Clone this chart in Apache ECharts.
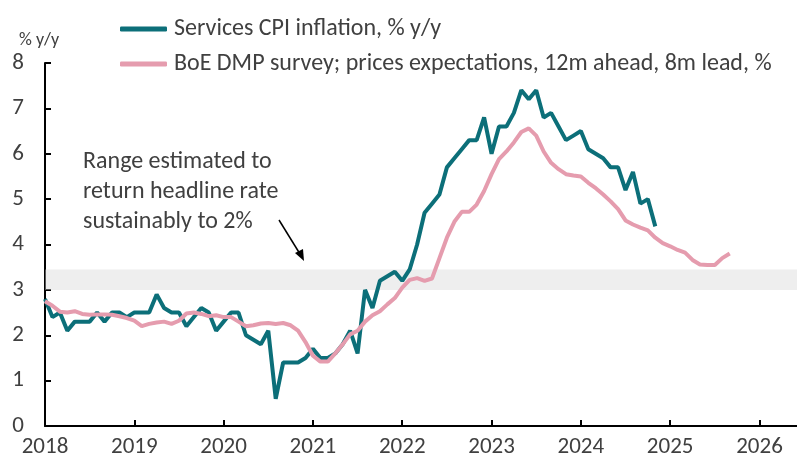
<!DOCTYPE html>
<html>
<head>
<meta charset="utf-8">
<script src="https://cdn.jsdelivr.net/npm/echarts@6/dist/echarts.min.js"></script>
<style>
  html, body { margin: 0; padding: 0; background: #fff; }
  #main { width: 797px; height: 466px; }
</style>
</head>
<body>
<div id="main"></div>
<script>
// monthly series, both starting Jan 2018
var startYear = 2018;
var servicesCpi = [
  2.8, 2.4, 2.5, 2.1, 2.3, 2.3, 2.3, 2.5, 2.3, 2.5, 2.5, 2.4,
  2.5, 2.5, 2.5, 2.9, 2.6, 2.5, 2.5, 2.2, 2.4, 2.6, 2.5, 2.1,
  2.3, 2.5, 2.5, 2.0, 1.9, 1.8, 2.1, 0.6, 1.4, 1.4, 1.4, 1.5,
  1.7, 1.5, 1.5, 1.6, 1.8, 2.1, 1.6, 3.0, 2.6, 3.2, 3.3, 3.4,
  3.2, 3.45, 4.0, 4.7, 4.9, 5.1, 5.7, 5.9, 6.1, 6.3, 6.3, 6.8,
  6.0, 6.6, 6.6, 6.9, 7.4, 7.2, 7.4, 6.8, 6.9, 6.6, 6.3, 6.4,
  6.5, 6.1, 6.0, 5.9, 5.7, 5.7, 5.2, 5.6, 4.9, 5.0, 4.4
];
var dmpExpectations = [
  2.75, 2.65, 2.52, 2.5, 2.53, 2.47, 2.45, 2.46, 2.46, 2.45, 2.42, 2.38,
  2.32, 2.2, 2.25, 2.28, 2.3, 2.25, 2.32, 2.48, 2.5, 2.47, 2.42, 2.44,
  2.4, 2.4, 2.3, 2.2, 2.22, 2.26, 2.27, 2.25, 2.27, 2.22, 2.1, 1.85,
  1.55, 1.42, 1.42, 1.6, 1.8, 2.02, 2.1, 2.3, 2.44, 2.53, 2.68, 2.82,
  3.05, 3.22, 3.26, 3.2, 3.25, 3.7, 4.15, 4.5, 4.72, 4.72, 4.88, 5.18,
  5.55, 5.88, 6.05, 6.25, 6.48, 6.56, 6.4, 6.05, 5.8, 5.66, 5.55, 5.52,
  5.5, 5.36, 5.24, 5.1, 4.95, 4.78, 4.53, 4.44, 4.37, 4.31, 4.15, 4.03,
  3.96, 3.88, 3.82, 3.66, 3.56, 3.55, 3.55, 3.7, 3.8
];
var seriesNames = ['Services CPI inflation, % y/y', 'BoE DMP survey; prices expectations, 12m ahead, 8m lead, %'];
var targetBand = [3.0, 3.45];
var yTicks = [0, 8, 1];
var xRange = [2018, 2026.42];
var noteLines = ['Range estimated to', 'return headline rate', 'sustainably to 2%'];

function toPairs(values) {
  return values.map(function (v, i) { return [startYear + i / 12, v]; });
}

var font = 'Carlito, Lato, "Liberation Sans", sans-serif';
var txt = '#404040';

var chart = echarts.init(document.getElementById('main'));
var option = {
  animation: false,
  textStyle: { fontFamily: font },
  grid: { left: 45, right: 0, top: 63, bottom: 40 },
  legend: {
    data: seriesNames,
    orient: 'vertical',
    left: 115,
    top: 12,
    itemWidth: 47,
    itemHeight: 5,
    itemGap: 11,
    icon: 'roundRect',
    textStyle: { fontFamily: font, fontSize: 24, color: txt, padding: [0, 0, 0, 2] }
  },
  xAxis: {
    type: 'value',
    min: xRange[0],
    max: xRange[1],
    interval: 1,
    splitLine: { show: false },
    axisLine: { lineStyle: { color: '#000', width: 2 } },
    axisTick: { inside: true, length: 6, lineStyle: { color: '#000', width: 2 } },
    axisLabel: {
      fontSize: 23, color: txt, margin: 10, showMaxLabel: false,
      formatter: function (v) { return Math.abs(v - Math.round(v)) < 1e-6 ? String(Math.round(v)) : ''; }
    }
  },
  yAxis: {
    type: 'value',
    min: yTicks[0],
    max: yTicks[1],
    interval: yTicks[2],
    splitLine: { show: false },
    axisLine: { show: true, lineStyle: { color: '#000', width: 2 } },
    axisTick: { show: true, inside: true, length: 6, lineStyle: { color: '#000', width: 2 } },
    axisLabel: { fontSize: 23, color: txt, margin: 21 }
  },
  series: [
    {
      name: seriesNames[0],
      type: 'line',
      data: toPairs(servicesCpi),
      showSymbol: false,
      symbol: 'none',
      lineStyle: { color: '#0c6f79', width: 4 },
      itemStyle: { color: '#0c6f79' },
      z: 2
    },
    {
      name: seriesNames[1],
      type: 'line',
      data: toPairs(dmpExpectations),
      showSymbol: false,
      symbol: 'none',
      lineStyle: { color: '#e59cae', width: 4 },
      itemStyle: { color: '#e59cae' },
      z: 3
    },
    {
      name: 'band',
      type: 'line',
      data: [],
      z: 10,
      markArea: {
        silent: true,
        itemStyle: { color: 'rgba(213,213,213,0.4)' },
        data: [[{ yAxis: targetBand[0] }, { yAxis: targetBand[1] }]]
      }
    }
  ],
  graphic: [
    {
      type: 'text', left: 19, top: 31,
      style: { text: '% y/y', fontFamily: font, fontSize: 18, fill: txt }
    },
    {
      type: 'text', left: 83, top: 147,
      style: { text: noteLines.join('\n'), fontFamily: font, fontSize: 24, lineHeight: 30, fill: txt }
    },
    {
      type: 'line',
      shape: { x1: 279, y1: 220, x2: 300, y2: 254 },
      style: { stroke: '#000', lineWidth: 1.5 }
    },
    {
      type: 'polygon',
      shape: { points: [[304, 261], [295, 253], [303, 249]] },
      style: { fill: '#000' }
    }
  ]
};
chart.setOption(option);
</script>
</body>
</html>
